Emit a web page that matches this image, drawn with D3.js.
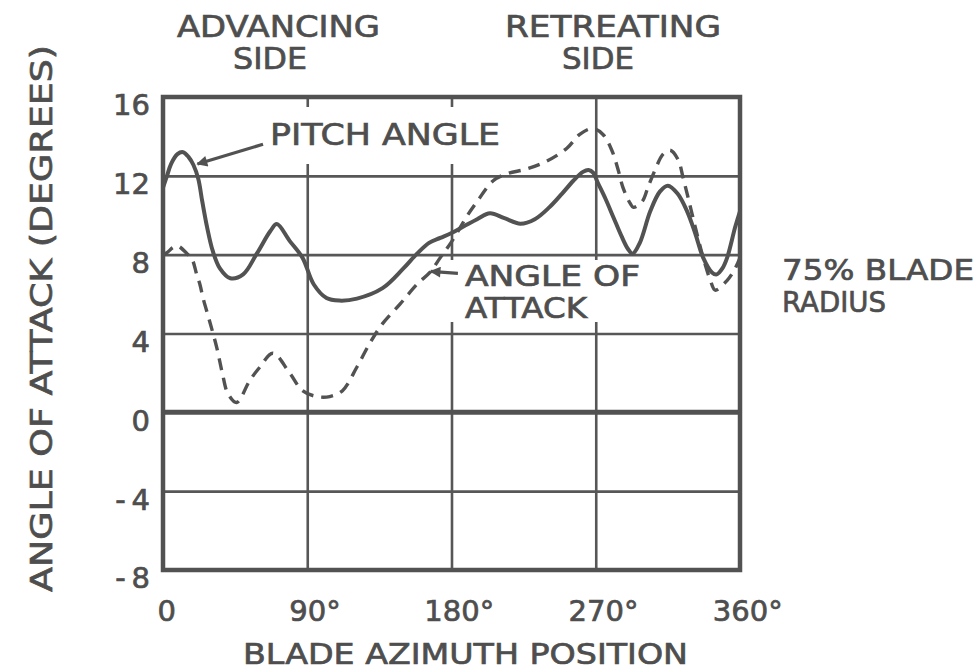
<!DOCTYPE html>
<html>
<head>
<meta charset="utf-8">
<script src="https://cdn.jsdelivr.net/npm/d3@7"></script>
<style>
  body { margin: 0; background: #fff; }
  text { font-family: "DejaVu Sans", sans-serif; fill: #4e4e4e; stroke: #4e4e4e; stroke-width: 0.7px; }
  .grid line { stroke: #575757; stroke-width: 2.6; }
  .grid path { display: none; }
</style>
</head>
<body>
<svg id="chart" width="979" height="672"></svg>
<script>
// blade azimuth (deg) and pitch angle (deg)
const pitchAzimuth = [0, 2.5, 5, 9, 12.5, 16, 19, 22, 24.5, 27.5, 31, 35.5, 42, 50, 58.5, 67, 71, 79, 87, 94, 102, 110, 121, 137, 150, 158.5, 166, 173, 180, 188, 196, 204, 213, 223, 232, 241, 249, 256, 262, 265.5, 268.5, 271, 276, 281, 286, 290, 293, 297.5, 304, 310, 315, 321, 327, 332, 337, 342.5, 345.5, 349, 352, 357, 360];
const pitchAngle = [11.4, 12.0, 12.6, 13.1, 13.2, 12.95, 12.55, 11.85, 10.7, 9.4, 8.2, 7.3, 6.8, 7.0, 8.05, 9.2, 9.55, 8.7, 7.85, 6.5, 5.8, 5.67, 5.77, 6.3, 7.3, 8.05, 8.6, 8.85, 9.1, 9.45, 9.8, 10.1, 9.85, 9.57, 9.8, 10.4, 11.1, 11.75, 12.2, 12.3, 12.15, 11.7, 10.85, 9.9, 8.95, 8.3, 8.05, 8.6, 10.2, 11.2, 11.5, 11.1, 10.2, 9.1, 7.85, 7.1, 7.0, 7.3, 7.85, 9.4, 10.2];

// blade azimuth (deg) and angle of attack (deg)
const aoaAzimuth = [0, 2.5, 6, 9, 15, 18, 21, 23, 25, 29, 33.5, 37, 40.5, 46, 54, 60.5, 68.5, 79, 87, 96, 104, 112, 121, 129, 137, 148, 158.5, 166.5, 173, 180, 190, 196, 206, 214.5, 227, 239.5, 252, 260, 268, 274.5, 280, 284, 287, 291.5, 293.5, 299, 302.5, 307, 312, 316.5, 321.5, 324.5, 327, 330, 333, 337, 341.5, 344.5, 352, 357, 360];
const angleOfAttack = [8.0, 8.1, 8.35, 8.45, 8.05, 7.8, 7.0, 6.5, 5.8, 4.65, 3.3, 2.0, 0.95, 0.5, 1.6, 2.3, 3.0, 2.0, 1.1, 0.8, 0.8, 1.1, 2.3, 3.5, 4.5, 5.5, 6.5, 7.1, 7.85, 8.65, 10.0, 10.7, 11.75, 12.1, 12.35, 12.75, 13.4, 14.1, 14.4, 14.1, 13.3, 12.3, 11.4, 10.6, 10.4, 10.7, 11.4, 12.3, 13.1, 13.3, 12.8, 11.9, 11.1, 10.1, 9.1, 7.85, 6.7, 6.2, 6.7, 7.3, 7.85];

const xTicks = [0, 90, 180, 270, 360];
const yTicks = [16, 12, 8, 4, 0, -4, -8];
const gridX = [90, 180, 270];
const gridY = [12, 8, 4, -4];

const svg = d3.select('#chart');
const plotLeft = 163, plotTop = 97, plotW = 577, plotH = 473;
const ink = '#525252';

const x = d3.scaleLinear().domain([0, 360]).range([plotLeft, plotLeft + plotW]);
const y = d3.scaleLinear().domain([-8, 16]).range([plotTop + plotH, plotTop]);

// grid lines
svg.append('g').attr('class', 'grid')
  .attr('transform', `translate(0,${plotTop + plotH})`)
  .call(d3.axisBottom(x).tickValues(gridX).tickSize(-plotH).tickFormat(''));
svg.append('g').attr('class', 'grid')
  .attr('transform', `translate(${plotLeft},0)`)
  .call(d3.axisLeft(y).tickValues(gridY).tickSize(-plotW).tickFormat(''));

// zero line is drawn heavier
svg.append('line')
  .attr('x1', x(0)).attr('x2', x(360)).attr('y1', y(0)).attr('y2', y(0))
  .attr('stroke', ink).attr('stroke-width', 5);

// white boxes behind the inside labels (the grid is broken there)
svg.append('rect').attr('x', 265).attr('y', 107).attr('width', 240).attr('height', 57).attr('fill', '#fff');
svg.append('rect').attr('x', 449).attr('y', 260).attr('width', 196).attr('height', 62).attr('fill', '#fff');

// curves
const line = d3.line()
  .x(d => x(d[0]))
  .y(d => y(d[1]))
  .curve(d3.curveCatmullRom.alpha(0.5));

svg.append('path')
  .datum(aoaAzimuth.map((a, i) => [a, angleOfAttack[i]]))
  .attr('d', line)
  .attr('fill', 'none').attr('stroke', ink).attr('stroke-width', 3.4)
  .attr('stroke-dasharray', '12 8');

svg.append('path')
  .datum(pitchAzimuth.map((a, i) => [a, pitchAngle[i]]))
  .attr('d', line)
  .attr('fill', 'none').attr('stroke', ink).attr('stroke-width', 4)
  .attr('stroke-linejoin', 'round');

// frame
svg.append('rect')
  .attr('x', plotLeft).attr('y', plotTop).attr('width', plotW).attr('height', plotH)
  .attr('fill', 'none').attr('stroke', ink).attr('stroke-width', 4.5);

// arrow heads for the callouts
svg.append('defs').append('marker')
  .attr('id', 'head').attr('viewBox', '0 0 10 10')
  .attr('refX', 9).attr('refY', 5)
  .attr('markerWidth', 4).attr('markerHeight', 3.4).attr('orient', 'auto')
  .append('path').attr('d', 'M0,0L10,5L0,10z').attr('fill', ink);

svg.append('line')
  .attr('x1', x(62.4)).attr('y1', y(13.6)).attr('x2', x(21.5)).attr('y2', y(12.6))
  .attr('stroke', ink).attr('stroke-width', 3.2).attr('marker-end', 'url(#head)');
svg.append('line')
  .attr('x1', x(184)).attr('y1', y(7.05)).attr('x2', x(167)).attr('y2', y(7.15))
  .attr('stroke', ink).attr('stroke-width', 3.2).attr('marker-end', 'url(#head)');

// y tick labels
const yAxis = svg.append('g')
  .attr('transform', `translate(${plotLeft},0)`)
  .call(d3.axisLeft(y).tickValues(yTicks).tickSize(0).tickPadding(13)
    .tickFormat(d => d < 0 ? '-\u2009' + (-d) : String(d)));
yAxis.select('.domain').remove();
yAxis.selectAll('text')
  .attr('dy', '0.62em')
  .style('font-size', '29px').style('font-family', '"DejaVu Sans", sans-serif');

// x tick labels: digits centred on the tick, degree sign hangs to the right
const xAxis = svg.append('g')
  .attr('transform', `translate(0,${plotTop + plotH})`)
  .call(d3.axisBottom(x).tickValues(xTicks).tickSize(0).tickPadding(30).tickFormat(d => String(d)));
xAxis.select('.domain').remove();
xAxis.selectAll('text')
  .style('font-size', '29px').style('font-family', '"DejaVu Sans", sans-serif')
  .each(function(d) {
    const t = d3.select(this);
    const w = this.getComputedTextLength();
    t.attr('text-anchor', 'start').attr('x', d === 0 ? -6 : -w / 2);
    if (d > 0) t.append('tspan').text('°');
  });

// free text labels, one text element per block, one tspan per line
function label(lines, size) {
  const t = svg.append('text').style('font-size', size + 'px');
  lines.forEach(l => {
    t.append('tspan').attr('x', l[1]).attr('y', l[2])
      .attr('textLength', l[3]).attr('lengthAdjust', 'spacingAndGlyphs')
      .text(l[0]);
  });
}
label([['ADVANCING', 177, 37, 203], ['SIDE', 233, 69, 74]], 30);
label([['RETREATING', 505, 37, 216], ['SIDE', 562, 69, 72]], 30);
label([['PITCH ANGLE', 270, 145, 230]], 31);
label([['ANGLE OF', 465, 286, 175], ['ATTACK', 465, 318, 122]], 28);
label([['75% BLADE', 782, 280, 192], ['RADIUS', 782, 312, 104]], 29);
label([['BLADE AZIMUTH POSITION', 243, 664, 445]], 29);

svg.append('text')
  .attr('transform', 'translate(52,592) rotate(-90)')
  .attr('textLength', 547).attr('lengthAdjust', 'spacingAndGlyphs')
  .style('font-size', '30px')
  .text('ANGLE OF ATTACK (DEGREES)');
</script>
</body>
</html>
